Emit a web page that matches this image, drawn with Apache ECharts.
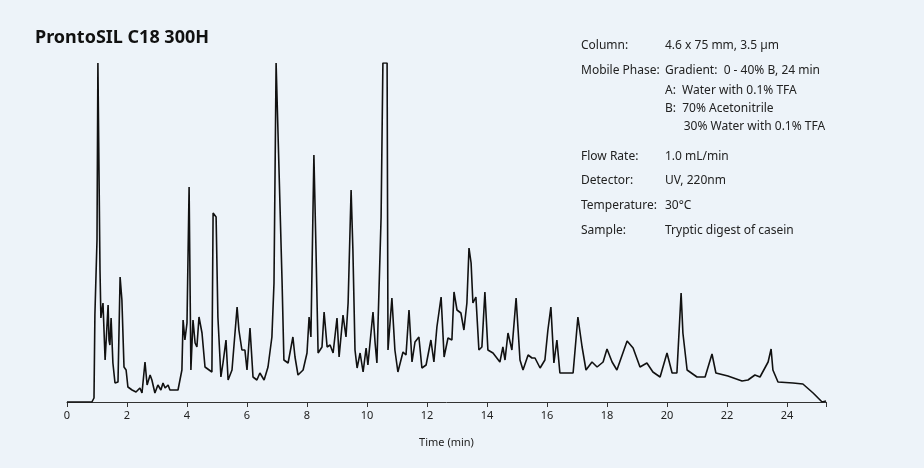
<!DOCTYPE html>
<html style="height: 100%">
<head>
    <meta charset="utf-8">
</head>
<body style="height: 100%; margin: 0; background: #edf3f9">
    <div id="container" style="width: 924px; height: 468px"></div>
    <script src="https://cdn.jsdelivr.net/npm/echarts@6/dist/echarts.min.js"></script>
    <script type="text/javascript">
        // retention time (min) and detector signal (arbitrary units, clipped at top)
        var time = [0, 0.83, 0.9, 0.93, 1.0, 1.03, 1.07, 1.1, 1.13, 1.2, 1.23, 1.27, 1.3, 1.37, 1.4, 1.43, 1.47, 1.53, 1.6, 1.7,
            1.77, 1.83, 1.9, 1.97, 2.03, 2.17, 2.3, 2.43, 2.5, 2.6, 2.67, 2.77, 2.83, 2.93, 3.03, 3.13, 3.2, 3.27, 3.37, 3.43,
            3.7, 3.83, 3.87, 3.93, 4.0, 4.07, 4.13, 4.2, 4.27, 4.33, 4.4, 4.5, 4.6, 4.83, 4.87, 4.97, 5.03, 5.13, 5.2, 5.3,
            5.37, 5.5, 5.67, 5.73, 5.83, 5.93, 6.0, 6.1, 6.2, 6.33, 6.43, 6.57, 6.7, 6.83, 6.9, 6.97, 7.03, 7.17, 7.23, 7.37,
            7.53, 7.6, 7.7, 7.87, 8.0, 8.07, 8.13, 8.23, 8.3, 8.37, 8.5, 8.57, 8.67, 8.77, 8.87, 9.0, 9.07, 9.2, 9.3, 9.37,
            9.47, 9.53, 9.6, 9.67, 9.77, 9.87, 9.97, 10.03, 10.2, 10.27, 10.33, 10.47, 10.53, 10.67, 10.7, 10.83, 10.93, 11.03, 11.2, 11.3,
            11.4, 11.5, 11.6, 11.73, 11.83, 11.97, 12.13, 12.23, 12.33, 12.47, 12.57, 12.7, 12.83, 12.9, 13.0, 13.13, 13.23, 13.33, 13.4, 13.47,
            13.53, 13.63, 13.73, 13.83, 13.93, 14.03, 14.2, 14.43, 14.53, 14.6, 14.7, 14.83, 14.97, 15.1, 15.2, 15.37, 15.5, 15.6, 15.77, 15.93,
            16.03, 16.13, 16.23, 16.33, 16.43, 16.77, 16.87, 17.03, 17.17, 17.3, 17.5, 17.67, 17.87, 18.0, 18.17, 18.33, 18.67, 18.87, 19.1, 19.33,
            19.53, 19.77, 20.0, 20.17, 20.33, 20.47, 20.53, 20.67, 21.0, 21.27, 21.5, 21.63, 22.03, 22.5, 22.7, 22.93, 23.1, 23.37, 23.47, 23.53,
            23.7, 24.2, 24.53, 24.87, 25.17, 25.3];
        var signal = [0, 0, 4, 87, 162, 339, 339, 132, 84, 99, 97, 42, 40, 97, 62, 57, 84, 39, 19, 20,
            125, 102, 35, 32, 15, 12, 10, 14, 9, 40, 17, 27, 22, 9, 17, 12, 19, 14, 17, 12,
            12, 32, 82, 62, 79, 215, 32, 82, 59, 55, 85, 69, 35, 30, 189, 185, 85, 25, 39, 62,
            22, 32, 95, 72, 52, 52, 32, 74, 25, 22, 29, 22, 35, 65, 119, 339, 339, 119, 42, 39,
            65, 45, 27, 32, 49, 85, 65, 247, 152, 49, 55, 90, 55, 57, 49, 84, 45, 87, 65, 99,
            212, 152, 52, 34, 49, 30, 54, 37, 90, 59, 39, 185, 339, 339, 52, 104, 52, 30, 50, 47,
            92, 40, 60, 65, 34, 37, 62, 40, 75, 105, 45, 64, 62, 110, 92, 89, 72, 99, 154, 139,
            99, 105, 52, 55, 110, 52, 49, 40, 55, 42, 69, 52, 104, 42, 32, 47, 44, 44, 34, 42,
            72, 95, 39, 62, 29, 29, 29, 85, 55, 32, 40, 35, 40, 53, 40, 32, 61, 54, 35, 39,
            30, 25, 49, 29, 29, 109, 69, 32, 25, 25, 48, 29, 26, 21, 22, 27, 25, 40, 53, 32,
            20, 19, 18, 9, 0, 1];
        var xTicks = [0, 2, 4, 6, 8, 10, 12, 14, 16, 18, 20, 22, 24];
        var infoLabels = ['Column:', 'Mobile Phase:', '', '', '', '', 'Flow Rate:', 'Detector:', 'Temperature:', 'Sample:'];
        var infoValues = ['4.6 x 75 mm, 3.5 µm', 'Gradient:  0 - 40% B, 24 min', 'A:  Water with 0.1% TFA',
            'B:  70% Acetonitrile', '      30% Water with 0.1% TFA', '', '1.0 mL/min', 'UV, 220nm', '30°C', 'Tryptic digest of casein'];
        var infoY = [48, 73, 93, 111, 129, 0, 159, 183, 208, 233];

        var dom = document.getElementById("container");
        var myChart = echarts.init(dom);
        var pts = time.map(function (t, i) { return [t, signal[i]]; });

        var graphics = [{
            type: 'text', left: 35, top: 29,
            style: { text: 'ProntoSIL C18 300H', font: 'bold 18px "Noto Sans"', fill: '#111' }
        }];
        infoValues.forEach(function (v, i) {
            if (infoLabels[i]) graphics.push({ type: 'text', left: 581, top: infoY[i] - 8,
                style: { text: infoLabels[i], font: '12px "Noto Sans"', fill: '#222' } });
            if (v) graphics.push({ type: 'text', left: 665, top: infoY[i] - 8,
                style: { text: v, font: '12px "Noto Sans"', fill: '#222' } });
        });

        var option = {
            animation: false,
            backgroundColor: '#edf3f9',
            grid: { left: 67, right: 98, top: 63, bottom: 66 },
            graphic: graphics,
            xAxis: {
                type: 'value', min: 0, max: 25.3, interval: 2,
                name: 'Time (min)', nameLocation: 'middle', nameGap: 35,
                nameTextStyle: { fontSize: 11, color: '#222', fontFamily: 'Noto Sans' },
                axisLine: { lineStyle: { color: '#333', width: 1 } },
                axisTick: { inside: false, length: 5, lineStyle: { color: '#333' } },
                axisLabel: { fontSize: 11, color: '#222', fontFamily: 'Noto Sans', margin: 8,
                    formatter: function (v) { return xTicks.indexOf(v) >= 0 ? String(v) : ''; } },
                splitLine: { show: false }
            },
            yAxis: {
                type: 'value', min: 0, max: 339, show: false
            },
            series: [{
                type: 'line', data: pts, showSymbol: false,
                lineStyle: { color: '#111', width: 1.6 }
            }]
        };
        myChart.setOption(option, true);
    </script>
</body>
</html>
